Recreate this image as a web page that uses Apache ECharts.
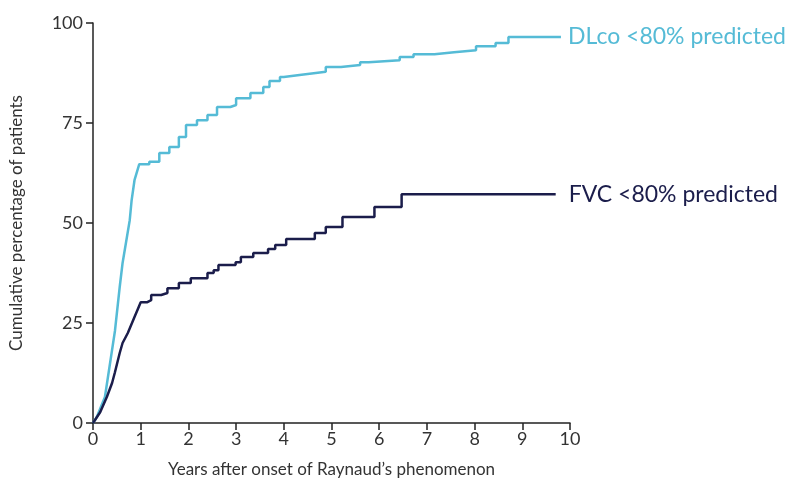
<!DOCTYPE html>
<html>
<head>
<meta charset="utf-8">
<script src="https://cdn.jsdelivr.net/npm/echarts@6/dist/echarts.min.js"></script>
<style>
  html, body { margin: 0; padding: 0; background: #fff; }
  #chart { width: 797px; height: 483px; }
</style>
</head>
<body>
<div id="chart"></div>
<script>
// values
const dlcoYears = [0, 0.08, 0.25, 0.39, 0.46, 0.56, 0.62, 0.77, 0.81, 0.87, 0.97, 1.18, 1.39, 1.6, 1.8, 1.95, 2.18, 2.4, 2.6, 2.88, 3.0, 3.3, 3.57, 3.7, 3.92, 4.0, 4.33, 4.67, 4.88, 5.2, 5.6, 5.78, 6.43, 6.72, 7.16, 7.57, 8.03, 8.44, 8.71, 9.81];
const dlcoPct = [0, 1.5, 6.5, 17.5, 23, 34, 40, 50.7, 55.7, 60.7, 64.7, 65.3, 67.5, 69, 71.5, 74.5, 75.7, 77, 79, 79.5, 81.2, 82.5, 84, 85.5, 86.5, 87, 87.5, 87.8, 89, 89.5, 90.2, 90.7, 91.5, 92.2, 92.7, 93.2, 94.2, 95, 96.5, 96.5];

const fvcYears = [0, 0.15, 0.29, 0.4, 0.46, 0.56, 0.62, 0.73, 0.87, 0.93, 1.0, 1.14, 1.22, 1.43, 1.56, 1.8, 2.05, 2.4, 2.53, 2.63, 2.99, 3.1, 3.36, 3.67, 3.82, 4.05, 4.65, 4.88, 5.23, 5.9, 6.47, 9.7];
const fvcPct = [0, 2.7, 6.5, 10, 12.7, 17.5, 20, 22.5, 26.5, 28.2, 30.2, 30.7, 32, 32.5, 33.7, 35, 36.2, 37.5, 38.2, 39.5, 40.2, 41.5, 42.5, 43.5, 44.5, 46, 47.5, 49, 51.5, 54, 57.2, 57.2];

const xTicks = [0, 1, 2, 3, 4, 5, 6, 7, 8, 9, 10];
const yTicks = [0, 25, 50, 75, 100];

const seriesNames = ['DLco <80% predicted', 'FVC <80% predicted'];
const lightBlue = '#55bbd6';
const navy = '#1b1d4b';
const font = 'Lato, "Noto Sans", sans-serif';

// early part of the curve is drawn straight, later part as steps
function stepped(xs, ys, smoothUntil) {
  const out = [];
  xs.forEach((x, i) => {
    if (i > 0 && x > smoothUntil) out.push([x, ys[i - 1]]);
    out.push([x, ys[i]]);
  });
  return out;
}

const chart = echarts.init(document.getElementById('chart'));

chart.setOption({
  animation: false,
  backgroundColor: '#fff',
  grid: {left: 88, right: 227, top: 23, bottom: 60},
  xAxis: {
    type: 'value',
    min: xTicks[0],
    max: xTicks[xTicks.length - 1],
    interval: 1,
    name: "Years after onset of Raynaud\u2019s phenomenon",
    nameLocation: 'middle',
    nameGap: 38,
    nameTextStyle: {color: '#333', fontSize: 17, fontFamily: font},
    axisLine: {lineStyle: {color: '#222', width: 1.5}},
    axisTick: {length: 7, lineStyle: {color: '#222', width: 1.5}},
    axisLabel: {color: '#333', fontSize: 18, fontFamily: font, margin: 7},
    splitLine: {show: false}
  },
  yAxis: {
    type: 'value',
    min: yTicks[0],
    max: yTicks[yTicks.length - 1],
    interval: 25,
    name: 'Cumulative percentage of patients',
    nameLocation: 'middle',
    nameGap: 68,
    nameTextStyle: {color: '#333', fontSize: 17, fontFamily: font},
    axisLine: {show: true, lineStyle: {color: '#222', width: 1.5}},
    axisTick: {show: true, length: 7, lineStyle: {color: '#222', width: 1.5}},
    axisLabel: {color: '#333', fontSize: 18, fontFamily: font, margin: 10},
    splitLine: {show: false}
  },
  series: [
    {
      name: seriesNames[0],
      type: 'line',
      symbol: 'none',
      lineStyle: {color: lightBlue, width: 2.5},
      data: stepped(dlcoYears, dlcoPct, 1.0),
      endLabel: {
        show: true,
        formatter: '{a}',
        color: lightBlue,
        fontSize: 23,
        fontFamily: font,
        distance: 7
      }
    },
    {
      name: seriesNames[1],
      type: 'line',
      symbol: 'none',
      lineStyle: {color: navy, width: 2.5},
      data: stepped(fvcYears, fvcPct, 1.0),
      endLabel: {
        show: true,
        formatter: '{a}',
        color: navy,
        fontSize: 23,
        fontFamily: font,
        distance: 13
      }
    }
  ]
});
</script>
</body>
</html>
